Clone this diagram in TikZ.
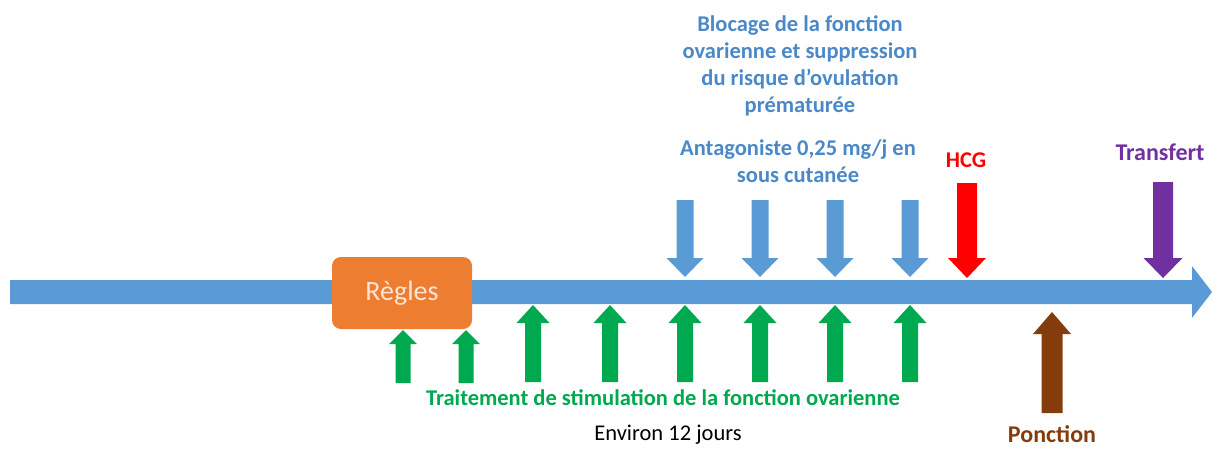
\documentclass[tikz,border=0pt]{standalone}
\usepackage{fontspec}
\setmainfont{Carlito}
\definecolor{barblue}{HTML}{5B9BD5}
\definecolor{txtblue}{HTML}{4A88C8}
\definecolor{stimgreen}{HTML}{00A850}
\definecolor{hcgred}{HTML}{FF0000}
\definecolor{trpurple}{HTML}{7030A0}
\definecolor{pobrown}{HTML}{843C0C}
\definecolor{rgorange}{HTML}{ED7D31}
\definecolor{rgtext}{HTML}{FBE5D6}
% block arrow: #1 x, #2 start y (tail), #3 tip y, #4 shaft width, #5 head width, #6 head length, #7 colour
\newcommand{\blockarr}[7]{%
  \pgfmathsetmacro{\bdir}{(#3>#2)?1:-1}%
  \pgfmathsetmacro{\bhb}{#3-\bdir*#6}%
  \fill[#7] (#1-#4/2,#2) -- (#1+#4/2,#2) -- (#1+#4/2,\bhb) -- (#1+#5/2,\bhb)
    -- (#1,#3) -- (#1-#5/2,\bhb) -- (#1-#4/2,\bhb) -- cycle;}
\tikzset{
  lbl/.style={font=\bfseries\fontsize{22.5}{27}\selectfont, align=center, inner sep=0pt},
  biglbl/.style={font=\bfseries\fontsize{24}{27}\selectfont, align=center, inner sep=0pt},
}
\begin{document}
\begin{tikzpicture}[x=1pt,y=-1pt]
\useasboundingbox (0,0) rectangle (1217,448);
% main time line
\fill[barblue] (10,280) -- (1192,280) -- (1192,266) -- (1212,292) -- (1192,318) -- (1192,304) -- (10,304) -- cycle;
% regles box
\node[fill=rgorange, rounded corners=9pt, minimum width=140pt, minimum height=72pt, inner sep=0pt,
      text=rgtext, font=\fontsize{28}{30}\selectfont] (regles) at (402,293) {Règles};
% green stimulation arrows
\blockarr{403}{383}{330}{15}{28}{14}{stimgreen}
\blockarr{466}{383}{330}{15}{28}{14}{stimgreen}
\foreach \gx in {533,610,685,760,835,910}{
  \blockarr{\gx}{382}{305}{16}{33}{18}{stimgreen}
}
% blue antagonist arrows
\foreach \bx in {685,760,835,910}{
  \blockarr{\bx}{200}{277}{17}{37}{19}{barblue}
}
% HCG, transfert, ponction
\blockarr{967}{183}{278}{20}{38}{20}{hcgred}
\blockarr{1163}{182}{278}{20}{39}{20}{trpurple}
\blockarr{1052}{413}{312}{21}{38}{22}{pobrown}
% texts
\node[lbl, text=txtblue] (blocage) at (800,66) {Blocage de la fonction\\ovarienne et suppression\\du risque d’ovulation\\prématurée};
\node[lbl, text=txtblue] (antag) at (798,161) {Antagoniste 0,25 mg/j en\\sous cutanée};
\node[lbl, text=hcgred] (hcg) at (966,160) {HCG};
\node[biglbl, text=trpurple] (transfert) at (1160,152) {Transfert};
\node[lbl, text=stimgreen] (stim) at (663,398) {Traitement de stimulation de la fonction ovarienne};
\node[lbl, font=\fontsize{22.5}{27}\selectfont, text=black] (env) at (668,435) {Environ 12 jours};
\node[biglbl, text=pobrown] (ponction) at (1052,434) {Ponction};
\end{tikzpicture}
\end{document}
